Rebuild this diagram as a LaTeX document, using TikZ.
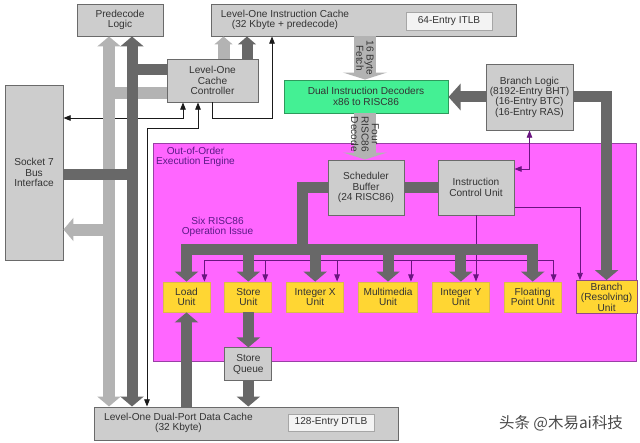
\documentclass[tikz,border=0pt]{standalone}
\usepackage{fontspec}
\setmainfont{Liberation Sans}
\newfontfamily\cjkfont{Noto Sans CJK SC}
\usepackage{xcolor}
\definecolor{cBox}{HTML}{CDCDCD}
\definecolor{cEdge}{HTML}{6A6A6A}
\definecolor{cTlb}{HTML}{F3F3F3}
\definecolor{cDecode}{HTML}{44F094}
\definecolor{cDecodeEdge}{HTML}{2E9A5C}
\definecolor{cEngine}{HTML}{FF66FF}
\definecolor{cEngineEdge}{HTML}{9A3FA6}
\definecolor{cUnit}{HTML}{FFD633}
\definecolor{cUnitEdge}{HTML}{DDB94A}
\definecolor{cBranchEdge}{HTML}{8E4A86}
\definecolor{cBusLight}{HTML}{B3B3B3}
\definecolor{cBusDark}{HTML}{686868}
\definecolor{cWire}{HTML}{1A1A1A}
\definecolor{cCtl}{HTML}{6A1580}
\definecolor{cLabel}{HTML}{5A1A85}
\definecolor{cText}{HTML}{333333}
\definecolor{cMark}{HTML}{4A4A4A}
\usepackage{tikz}
\usetikzlibrary{positioning,arrows.meta,calc}
\tikzset{
  node-box/.style={draw=cEdge,fill=cBox,line width=0.7pt,inner sep=0pt,
    align=center,text=cText},
  node-tlb/.style={draw=cEdge!60,fill=cTlb,line width=0.5pt,inner sep=0pt,
    minimum width=21.5mm,minimum height=4.5mm,text=cText},
  node-unit/.style={draw=cUnitEdge,fill=cUnit,line width=0.6pt,inner sep=0pt,
    minimum height=7.5mm,align=center,text=cText},
  node-label/.style={align=center,text=cLabel},
  bus-light/.style={draw=cBusLight,line width=3mm},
  bus-dark/.style={draw=cBusDark,line width=2.75mm},
  wire/.style={draw=cWire,line width=0.6pt},
  wire-ctl/.style={draw=cCtl,line width=0.6pt},
  bushead/.tip={Triangle[width=5.75mm,length=2.5mm]},
  smallhead/.tip={Triangle[width=4.5mm,length=2mm]},
  widehead/.tip={Triangle[width=11mm,length=1.75mm]},
  sidehead/.tip={Triangle[width=6.5mm,length=3mm]},
  wirehead/.tip={Triangle[width=1.4mm,length=1.8mm]},
}

\begin{document}
\begin{tikzpicture}[x=0.25mm,y=-0.25mm,node distance=3.5mm,
    every node/.style={font=\fontsize{7.2}{7.4}\selectfont}]
  \useasboundingbox[fill=white] (0,0) rectangle (640,442);

  % blocks outside the engine
  \node[node-box,minimum width=21.5mm,minimum height=8mm] (predecode) at (120,20) {Predecode\\Logic};
  \node[node-box,minimum width=76.25mm,minimum height=8mm] (icache) at (363.5,20) {};
  \node[align=center,text=cText] (icache-label) at (285,20) {Level-One Instruction Cache\\(32 Kbyte + predecode)};
  \node[node-tlb] (itlb) at (449,21) {64-Entry ITLB};
  \node[node-box,minimum width=22.75mm,minimum height=10.75mm] (ctrl) at (212.5,80.5) {Level-One\\Cache\\Controller};
  \node[node-box,minimum width=14.5mm,minimum height=43.75mm] (socket) at (34,172.5) {Socket 7\\Bus\\Interface};
  \node[node-box,fill=cDecode,draw=cDecodeEdge,minimum width=41mm,minimum height=8.25mm] (decoder) at (366,96.5) {Dual Instruction Decoders\\x86 to RISC86};
  \node[node-box,minimum width=21.75mm,minimum height=16.5mm] (blogic) at (529.5,97) {Branch Logic\\(8192-Entry BHT)\\(16-Entry BTC)\\(16-Entry RAS)};
  \node[node-box,minimum width=76mm,minimum height=8.25mm] (dcache) at (246,423.5) {};
  \node[align=center,text=cText] (dcache-label) at (178.5,423) {Level-One Dual-Port Data Cache\\(32 Kbyte)};
  \node[node-tlb,minimum height=4.25mm] (dtlb) at (331,422.5) {128-Entry DTLB};

  % execution engine
  \node[draw=cEngineEdge,fill=cEngine,line width=0.7pt,inner sep=0pt,
    minimum width=120.75mm,minimum height=54.5mm] (engine) at (394.5,252) {};
  \node[node-label] (engine-label) at (195.5,157) {Out-of-Order\\Execution Engine};
  \node[node-box,minimum width=19mm,minimum height=13.75mm] (sched) at (366,187.5) {Scheduler\\Buffer\\(24 RISC86)};
  \node[node-box,minimum width=19mm,minimum height=13.75mm] (icu) at (476,187.5) {Instruction\\Control Unit};
  \node[node-label] (issue-label) at (217.5,227) {Six RISC86\\Operation Issue};
  \node[node-unit,minimum width=11.75mm] (load) at (186.5,297) {Load\\Unit};
  \node[node-unit,minimum width=11.75mm,right=of load] (store) {Store\\Unit};
  \node[node-unit,minimum width=14.25mm,right=of store] (intx) {Integer X\\Unit};
  \node[node-unit,minimum width=14.75mm,right=of intx] (mmx) {Multimedia\\Unit};
  \node[node-unit,minimum width=14.25mm,right=of mmx] (inty) {Integer Y\\Unit};
  \node[node-unit,minimum width=14.25mm,right=of inty] (fpu) {Floating\\Point Unit};
  \node[node-unit,draw=cBranchEdge,minimum width=15.25mm,minimum height=8.25mm,right=of fpu] (branch) {Branch\\(Resolving)\\Unit};
  \node[node-box,minimum width=11.75mm,minimum height=8.25mm,below=8.75mm of store] (squeue) {Store\\Queue};

  \node[font=\cjkfont\fontsize{11}{11}\selectfont,text=cMark] (mark) at (561,423) {头条 @木易ai科技};

  % thin control wires
  \draw[wire,-{wirehead}] (ctrl.south) |- (272,118) -- (272,0 |- icache.south);
  \draw[wire,{wirehead}-{wirehead}] (socket.east |- 0,118) -| (183,0 |- ctrl.south);
  \draw[wire,{wirehead}-{wirehead}] (147,0 |- dcache.north) |- (198,128) -- (198,0 |- ctrl.south);
  \draw[wire-ctl] ($(load.north east)+(-6,-21)$) -- ($(fpu.north east)+(-8,-21)$);
  \foreach \u/\dx in {load/6,store/7,intx/7,mmx/7,fpu/8}
    \draw[wire-ctl,-{wirehead}] ($(\u.north east)+(-\dx,-21)$) -- ($(\u.north east)+(-\dx,0)$);
  \draw[wire-ctl,-{wirehead}] (icu.south) -- (icu.south |- inty.north);
  \draw[wire-ctl,-{wirehead}] (icu.east |- 0,207) -| (580,0 |- branch.north);
  \draw[wire-ctl,{wirehead}-{wirehead}] (blogic.south) |- (icu.east |- 0,169);

  % light buses
  \coordinate (lbus) at (109,0);
  \coordinate (dbus) at (132,0);
  \coordinate (fetch) at (365,0);
  \draw[bus-light] (lbus |- 0,93) -- (ctrl.west |- 0,93);
  \draw[bus-light,-{bushead}] (lbus |- 0,229.5) -- (socket.east |- 0,229.5);
  \draw[bus-light,{bushead}-{bushead}] (lbus |- dcache.north) -- (lbus |- predecode.south);
  \draw[bus-light,-{smallhead}] (223.5,0 |- ctrl.north) -- (223.5,0 |- icache.south);
  \draw[bus-light,line width=5.5mm,-{widehead}] (fetch |- icache.south) -- (fetch |- decoder.north)
    node[midway,rotate=-90,align=center,text=cText] {16 Byte\\Fetch};
  \draw[bus-light,line width=5.5mm,-{widehead}] (fetch |- decoder.south) -- (fetch |- sched.north)
    node[pos=0.45,rotate=-90,align=center,text=cText] {Four\\RISC86\\Decode};

  % dark buses
  \draw[bus-dark] (dbus |- 0,69.5) -- (ctrl.west |- 0,69.5);
  \draw[bus-dark] (socket.east |- 0,174.5) -- (dbus |- 0,174.5);
  \draw[bus-dark,{bushead}-{bushead}] (dbus |- dcache.north) -- (dbus |- predecode.south);
  \draw[bus-dark,-{smallhead}] (247,0 |- ctrl.north) -- (247,0 |- icache.south);
  \draw[bus-dark,-{sidehead}] (blogic.west) -- (blogic.west -| decoder.east);
  \draw[bus-dark,-{bushead}] (blogic.east) -| (branch.north);
  \draw[bus-dark] (sched.east) -- (icu.west);
  \draw[bus-dark] (sched.west) -| (302,249);
  \draw[bus-dark,line cap=rect] (load.north |- 0,249) -- (fpu.north |- 0,249);
  \foreach \u in {load,store,intx,mmx,inty,fpu}
    \draw[bus-dark,-{bushead}] (\u.north |- 0,249) -- (\u.north);
  \draw[bus-dark,-{bushead}] (load.south |- dcache.north) -- (load.south);
  \draw[bus-dark,-{bushead}] (store.south) -- (squeue.north);
  \draw[bus-dark,-{bushead}] (squeue.south) -- (squeue.south |- dcache.north);
\end{tikzpicture}
\end{document}
